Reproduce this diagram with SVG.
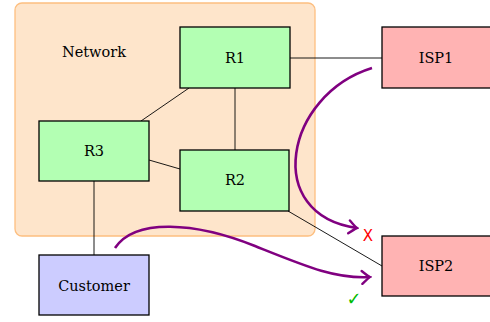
<svg xmlns="http://www.w3.org/2000/svg" width="490" height="322" viewBox="0 0 490 322">
<style>
.box{stroke:#000;stroke-width:1.3}
.r{fill:#b3ffb3}
.isp{fill:#ffb3b3}
.cust{fill:#ccccff}
.lbl{font-family:'DejaVu Serif',serif;font-size:14.5px;text-anchor:middle;dominant-baseline:central;fill:#000}
.edge{stroke:#000;stroke-width:0.9;fill:none}
.flow{stroke:#800080;stroke-width:2.6;fill:none;marker-end:url(#arr)}
</style>
<defs>
<marker id="arr" markerUnits="userSpaceOnUse" viewBox="-10 -8 12 16" markerWidth="12" markerHeight="16" refX="0" refY="0" orient="auto">
<path d="M-8,-6.5 Q-2,-1 0,0 Q-2,1 -8,6.5" stroke="#800080" stroke-width="2.4" fill="none" stroke-linecap="round"/>
</marker>
</defs>
<g id="network">
<rect x="15" y="3" width="300" height="233" rx="7" fill="#fee5cb" stroke="#fdbf80" stroke-width="1.3"/>
<text class="lbl" x="94" y="52">Network</text>
</g>
<g id="connectors">
<line class="edge" x1="290" y1="58" x2="382" y2="58"/>
<line class="edge" x1="189" y1="88" x2="141" y2="121"/>
<line class="edge" x1="235" y1="88" x2="235" y2="150"/>
<line class="edge" x1="149" y1="160" x2="180" y2="169"/>
<line class="edge" x1="94" y1="181" x2="94" y2="255"/>
<line class="edge" x1="288" y1="211" x2="382" y2="266"/>
<path class="flow" d="M372,68 C285,95 262,215 357,228"/>
<path class="flow" d="M115,248 C135,218 195,222 255,246 C305,266 335,279 370,277"/>
</g>
<g id="R1"><rect class="box r" x="180" y="27" width="110" height="61"/><text class="lbl" x="235" y="58">R1</text></g>
<g id="R3"><rect class="box r" x="39" y="121" width="110" height="60"/><text class="lbl" x="94" y="151">R3</text></g>
<g id="R2"><rect class="box r" x="180" y="150" width="109" height="61"/><text class="lbl" x="235" y="180">R2</text></g>
<g id="ISP1"><rect class="box isp" x="382" y="27" width="110" height="61"/><text class="lbl" x="436" y="58">ISP1</text></g>
<g id="ISP2"><rect class="box isp" x="382" y="236" width="110" height="60"/><text class="lbl" x="436" y="266">ISP2</text></g>
<g id="Customer"><rect class="box cust" x="39" y="255" width="110" height="60"/><text class="lbl" x="94" y="286">Customer</text></g>
<g id="marks">
<text x="368" y="236" font-family="DejaVu Sans, sans-serif" font-size="15" fill="#ff0000" text-anchor="middle" dominant-baseline="central">X</text>
<text x="354" y="298" font-family="DejaVu Sans, sans-serif" font-size="18" fill="#00bb00" text-anchor="middle" dominant-baseline="central">✓</text>
</g>
</svg>
